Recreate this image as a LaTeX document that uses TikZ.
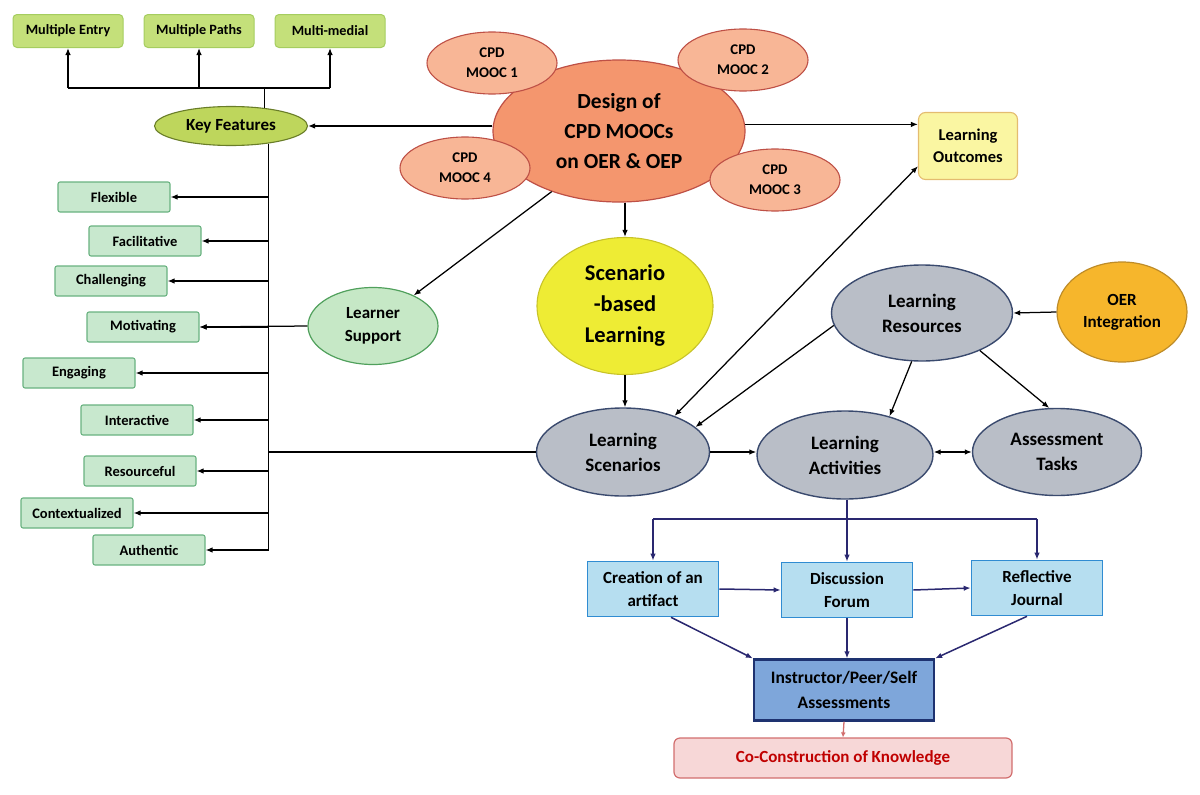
\documentclass[tikz,border=0pt]{standalone}
\usepackage{fontspec}
\setmainfont{Carlito}
\usepackage{xcolor}
\usetikzlibrary{arrows.meta,shapes.geometric}
\definecolor{limefill}{RGB}{196,224,122}
\definecolor{limeedge}{RGB}{165,205,95}
\definecolor{keyfill}{RGB}{190,214,92}
\definecolor{keyedge}{RGB}{105,125,40}
\definecolor{mintfill}{RGB}{200,232,206}
\definecolor{mintedge}{RGB}{105,178,128}
\definecolor{salmon}{RGB}{244,150,110}
\definecolor{salmonlt}{RGB}{248,182,150}
\definecolor{brickred}{RGB}{190,80,70}
\definecolor{paleyellow}{RGB}{250,246,162}
\definecolor{paleedge}{RGB}{228,188,112}
\definecolor{lemon}{RGB}{238,236,52}
\definecolor{lemonedge}{RGB}{200,195,40}
\definecolor{slategray}{RGB}{185,190,199}
\definecolor{slateedge}{RGB}{58,74,110}
\definecolor{amber}{RGB}{246,182,44}
\definecolor{amberedge}{RGB}{190,140,40}
\definecolor{leafgreen}{RGB}{198,232,198}
\definecolor{leafedge}{RGB}{80,160,92}
\definecolor{skyfill}{RGB}{182,222,240}
\definecolor{skyedge}{RGB}{48,140,210}
\definecolor{steelfill}{RGB}{126,166,218}
\definecolor{steeledge}{RGB}{30,50,112}
\definecolor{rosefill}{RGB}{247,215,215}
\definecolor{roseedge}{RGB}{210,110,110}
\definecolor{knowred}{RGB}{192,0,0}
\definecolor{navy}{RGB}{42,40,112}

\begin{document}
\begin{tikzpicture}[
  x=1pt, y=-1pt,
  % ── node styles ──────────────────────────────────────────────────────────
  featbox/.style={
    draw=limeedge, line width=1pt,
    rectangle, minimum width=110pt, minimum height=33pt,
    fill=limefill, rounded corners=4pt,
    font=\bfseries\fontsize{14.2}{16}\selectfont
  },
  keyell/.style={
    draw=keyedge, line width=1.1pt, ellipse, inner sep=0pt,
    minimum width=153pt, minimum height=39pt, fill=keyfill,
    font=\bfseries\fontsize{17}{20}\selectfont
  },
  attrbox/.style={
    draw=mintedge, line width=1.1pt,
    rectangle, minimum width=112pt, minimum height=30pt,
    fill=mintfill, rounded corners=2pt,
    font=\bfseries\fontsize{14.5}{16}\selectfont
  },
  designell/.style={
    draw=brickred, line width=1.2pt, ellipse, inner sep=0pt,
    minimum width=252pt, minimum height=142pt, fill=salmon, align=center,
    font=\bfseries\fontsize{21.5}{30}\selectfont
  },
  moocell/.style={
    draw=brickred, line width=1.1pt, ellipse, inner sep=0pt,
    minimum width=130pt, minimum height=62pt, fill=salmonlt, align=center,
    font=\bfseries\fontsize{14.8}{20}\selectfont
  },
  outbox/.style={
    draw=paleedge, line width=1.1pt, rectangle, rounded corners=7pt,
    minimum width=99pt, minimum height=67pt, fill=paleyellow, align=center,
    font=\bfseries\fontsize{16.5}{22}\selectfont
  },
  sblell/.style={
    draw=lemonedge, line width=1.1pt, ellipse, inner sep=0pt,
    minimum width=176pt, minimum height=137pt, fill=lemon, align=center,
    font=\bfseries\fontsize{22.5}{31}\selectfont
  },
  greyell/.style={
    draw=slateedge, line width=1.4pt, ellipse, inner sep=0pt,
    fill=slategray, align=center,
    font=\bfseries\fontsize{19}{25}\selectfont
  },
  oerell/.style={
    draw=amberedge, line width=1.2pt, ellipse, inner sep=0pt,
    minimum width=130pt, minimum height=100pt, fill=amber, align=center,
    font=\bfseries\fontsize{17}{22}\selectfont
  },
  supell/.style={
    draw=leafedge, line width=1.2pt, ellipse, inner sep=0pt,
    minimum width=130pt, minimum height=77pt, fill=leafgreen, align=center,
    font=\bfseries\fontsize{17}{23}\selectfont
  },
  taskbox/.style={
    draw=skyedge, line width=1.6pt, rectangle,
    minimum width=131pt, minimum height=55pt, fill=skyfill, align=center,
    font=\bfseries\fontsize{17}{23}\selectfont
  },
  evalbox/.style={
    draw=steeledge, line width=2.2pt, rectangle,
    minimum width=180pt, minimum height=61pt, fill=steelfill, align=center,
    font=\bfseries\fontsize{17.5}{25}\selectfont
  },
  knowbox/.style={
    draw=roseedge, line width=1.2pt, rectangle, rounded corners=6pt,
    minimum width=338pt, minimum height=40pt, fill=rosefill, text=knowred,
    font=\bfseries\fontsize{17}{20}\selectfont
  },
  % plain connector lines and arrows
  link/.style={draw=black, line width=1.25pt},
  arr/.style={link, -{Latex[length=7pt,width=5.5pt]}},
  dblarr/.style={link, {Latex[length=7pt,width=5.5pt]}-{Latex[length=7pt,width=5.5pt]}},
  navylink/.style={draw=navy, line width=1.5pt},
  navyarr/.style={navylink, -{Latex[length=7pt,width=5.5pt]}},
  redarr/.style={draw=roseedge, line width=1.3pt, -{Latex[length=5pt,width=5pt]}},
]

\useasboundingbox (0,0) rectangle (1200,795);

% ── Top features ────────────────────────────────────────────────────────────
\node[featbox] (mEntry) at (68,31)  {Multiple Entry};
\node[featbox] (mPaths) at (199,31) {Multiple Paths};
\node[featbox] (mMedia) at (330,31) {Multi-medial};
\node[keyell]  (keyF)   at (231,126) {Key Features};

\coordinate (busTop) at (199,88);
\draw[link] (keyF.28) -- (keyF.28 |- busTop);
\draw[link] (mEntry.south |- busTop) -- (mMedia.south |- busTop);
\foreach \nd in {mEntry,mPaths,mMedia}{
  \draw[arr] (\nd.south |- busTop) -- (\nd.south);
}

% ── Attribute list on the trunk ─────────────────────────────────────────────
\foreach \nd/\cx/\cy/\txt in {flex/114/197/Flexible, faci/145/241/Facilitative,
    chal/111/281/Challenging, moti/143/327/Motivating, enga/79/373/Engaging,
    inte/137/420/Interactive, reso/140/471/Resourceful,
    cont/77/513/Contextualized, auth/149/550/Authentic}{
  \node[attrbox] (\nd) at (\cx,\cy) {\txt};
  \draw[arr] (\nd.east -| keyF.-25) -- (\nd.east);
}
\draw[link] (keyF.-25) -- (keyF.-25 |- auth.east);

% ── Central design and MOOCs ────────────────────────────────────────────────
\node[designell] (design) at (619,131) {Design of\\CPD MOOCs\\on OER \& OEP};
\node[moocell] (mooc1) at (492,63)  {CPD\\MOOC 1};
\node[moocell] (mooc2) at (743,60)  {CPD\\MOOC 2};
\node[moocell] (mooc3) at (775,180) {CPD\\MOOC 3};
\node[moocell] (mooc4) at (465,168) {CPD\\MOOC 4};

\node[outbox]  (LO)   at (968,146) {Learning\\Outcomes};
\node[sblell]  (SBL)  at (625,306) {Scenario\\-based\\Learning};
\node[supell]  (LSup) at (373,326) {Learner\\Support};

\draw[arr] (design.west |- keyF.east) -- (keyF.east);
\draw[arr] (design.3) -- (design.3 -| LO.west);
\draw[arr] (SBL.north |- design.south) -- (SBL.north);
\draw[arr] (design.222) -- (LSup);
\draw[arr] (LSup.west) -- (moti.east);

% ── Learning cycle ──────────────────────────────────────────────────────────
\node[greyell, minimum width=173pt, minimum height=88pt] (LS) at (623,452) {Learning\\Scenarios};
\node[greyell, minimum width=176pt, minimum height=88pt] (LA) at (845,455) {Learning\\Activities};
\node[greyell, minimum width=169pt, minimum height=87pt] (AT) at (1057,452) {Assessment\\Tasks};
\node[greyell, minimum width=181pt, minimum height=96pt] (LR) at (922,313) {Learning\\Resources};
\node[oerell] (OER) at (1122,312) {OER\\Integration};

\draw[arr]    (SBL.south) -- (SBL.south |- LS.north);
\draw[link]   (LS.west) -- (LS.west -| keyF.-25);
\draw[dblarr] (LS.35) -- (LO.202);
\draw[arr]    (LR.188) -- (LS.19);
\draw[arr]    (LR.258) -- (LA.41);
\draw[arr]    (LR.-33) -- (AT.100);
\draw[arr]    (OER.west) -- (LR.east);
\draw[arr]    (LS.east) -- (LS.east -| LA.west);
\draw[dblarr] (LA.east |- AT.west) -- (AT.west);

% ── Activities and assessment ───────────────────────────────────────────────
\node[taskbox] (creation) at (653,589)  {Creation of an\\artifact};
\node[taskbox] (forum)    at (847,590)  {Discussion\\Forum};
\node[taskbox] (journal)  at (1037,588) {Reflective\\Journal};
\node[evalbox] (instr)    at (844,690)  {Instructor/Peer/Self\\Assessments};
\node[knowbox] (know)     at (843,758)  {Co-Construction of Knowledge};

\coordinate (actBus) at (846,519);
\draw[navyarr]  (forum.north |- LA.south) -- (forum.north);
\draw[navylink] (creation.north |- actBus) -- (journal.north |- actBus);
\draw[navyarr]  (creation.north |- actBus) -- (creation.north);
\draw[navyarr]  (journal.north |- actBus) -- (journal.north);
\draw[navyarr]  (creation.east) -- (forum.west);
\draw[navyarr]  (forum.east) -- (journal.west);
\draw[navyarr]  ([xshift=18pt]creation.south) -- (instr.north west);
\draw[navyarr]  (forum.south) -- (forum.south |- instr.north);
\draw[navyarr]  ([xshift=-10pt]journal.south) -- (instr.north east);
\draw[redarr]   (instr.south) -- (know.north);

\end{tikzpicture}
\end{document}
